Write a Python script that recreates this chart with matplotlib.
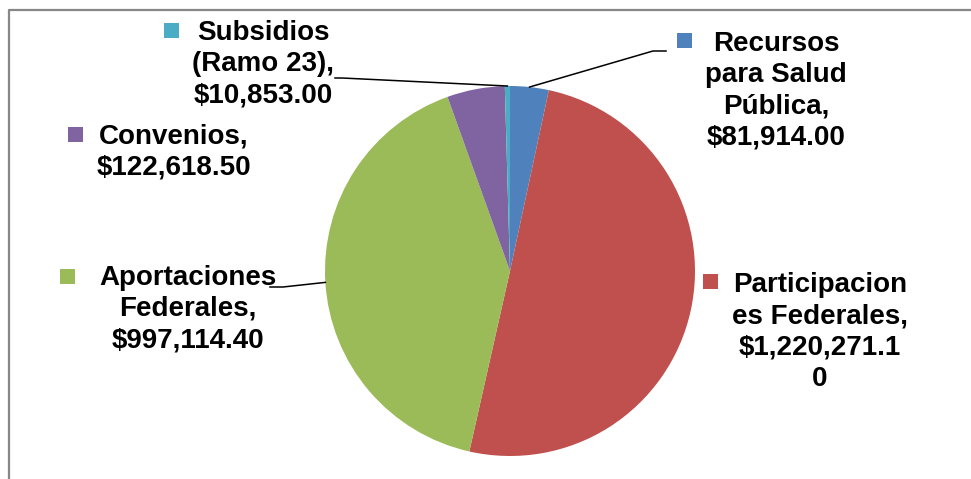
import numpy as np
import matplotlib
matplotlib.use("Agg")
import matplotlib.pyplot as plt
from matplotlib.patches import Rectangle

# ---- data ----
categories = ["Recursos para Salud Pública", "Participaciones Federales",
              "Aportaciones Federales", "Convenios", "Subsidios (Ramo 23)"]
values = [81914.00, 1220271.10, 997114.40, 122618.50, 10853.00]
label_texts = ["Recursos\npara Salud\nPública,\n$81,914.00",
               "Participacion\nes Federales,\n$1,220,271.1\n0",
               "Aportaciones\nFederales,\n$997,114.40",
               "Convenios,\n$122,618.50",
               "Subsidios\n(Ramo 23),\n$10,853.00"]
colors = ["#4F81BD", "#C0504D", "#9BBB59", "#8064A2", "#4BACC6"]

W, H = 971, 479
fig = plt.figure(figsize=(W / 100, H / 100), dpi=100)
ax = fig.add_axes([0, 0, 1, 1])

def Y(y):  # convert top-down pixel y to data y
    return H - y

cx, cy, r = 510, Y(271), 185
wedges, _ = ax.pie(values, colors=colors, startangle=90, counterclock=False,
                   center=(cx, cy), radius=r, frame=True,
                   wedgeprops=dict(linewidth=0))
ax.set_xlim(0, W)
ax.set_ylim(0, H)
ax.set_aspect("equal")
ax.axis("off")

# chart frame
ax.plot([8.5, 8.5, W + 5], [-5, Y(9.5), Y(9.5)], color="#878787", lw=1.6,
        solid_capstyle="butt", clip_on=False)

font = dict(family=["Liberation Sans", "DejaVu Sans"], fontsize=20,
            fontweight="bold", color="black", ha="center", va="center",
            multialignment="center", linespacing=1.26)

# label layout: (text center x, center y, key square center x, y)
layout = [
    (776, 91, 684, 40),
    (820, 332, 710, 281),
    (188, 309, 67, 276),
    (174, 152, 75, 134),
    (263, 64, 171, 30),
]
for txt, col, (tx, ty, sx, sy) in zip(label_texts, colors, layout):
    ax.text(tx, Y(ty), txt, **font)
    ax.add_patch(Rectangle((sx - 7.5, Y(sy) - 7.5), 15, 15, color=col, lw=0))

# leader lines from wedge mid-angles
def edge_point(w):
    ang = np.deg2rad((w.theta1 + w.theta2) / 2)
    return cx + r * np.cos(ang), cy + r * np.sin(ang)

leaders = {
    0: [(653, 51), (666, 51)],
    2: [(283, 287), (270, 287)],
    4: [(342, 78), (335, 78)],
}
for i, pts in leaders.items():
    x0, y0 = edge_point(wedges[i])
    xs = [x0] + [p[0] for p in pts]
    ys = [y0] + [Y(p[1]) for p in pts]
    ax.plot(xs, ys, color="black", lw=1.1)

fig.savefig("out.png", dpi=100)
